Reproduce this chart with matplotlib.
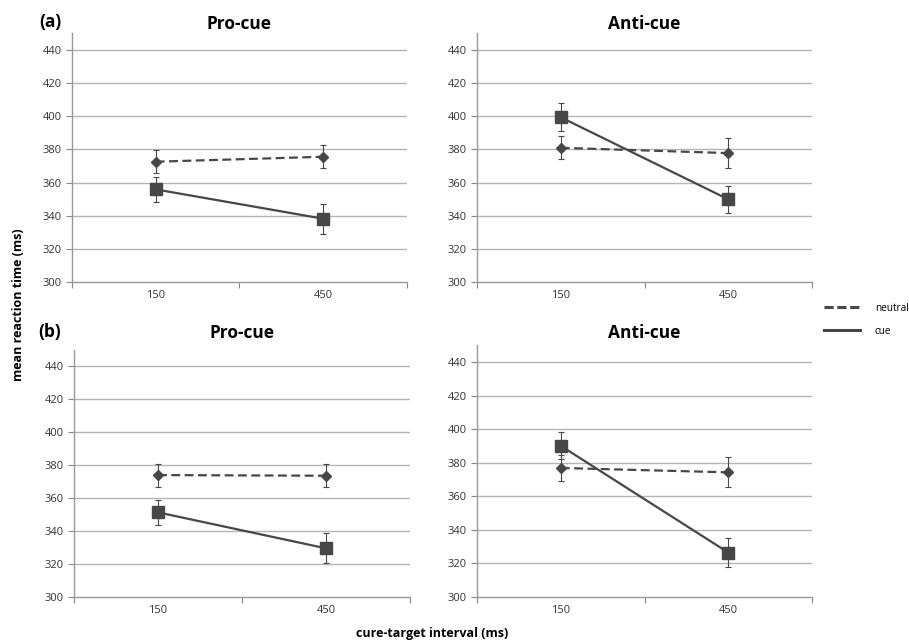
import numpy as np
import matplotlib
matplotlib.use('Agg')
import matplotlib.pyplot as plt
from matplotlib.lines import Line2D

plt.rcParams['font.family'] = ['Open Sans', 'DejaVu Sans']

# categories (cue-target interval, ms)
intervals = ['150', '450']

# panel (a)
a_pro_neutral = [372.6, 375.6]
a_pro_neutral_err = [7.0, 7.0]
a_pro_cue = [355.9, 338.2]
a_pro_cue_err = [7.5, 9.0]
a_anti_neutral = [381.0, 377.8]
a_anti_neutral_err = [7.0, 9.0]
a_anti_cue = [399.4, 349.9]
a_anti_cue_err = [8.5, 8.0]

# panel (b)
b_pro_neutral = [373.9, 373.5]
b_pro_neutral_err = [7.0, 7.0]
b_pro_cue = [351.3, 329.5]
b_pro_cue_err = [7.5, 9.0]
b_anti_neutral = [376.9, 374.3]
b_anti_neutral_err = [7.5, 9.0]
b_anti_cue = [390.1, 326.5]
b_anti_cue_err = [8.0, 8.5]

line_col = '#474747'
grid_col = '#b5b5b5'
txt_col = '#333333'

fig = plt.figure(figsize=(9.09, 6.42), dpi=100)

panels = [
    ([0.0792, 0.5607, 0.3685, 0.3872], 'Pro-cue', a_pro_neutral, a_pro_neutral_err, a_pro_cue, a_pro_cue_err),
    ([0.5248, 0.5607, 0.3685, 0.3872], 'Anti-cue', a_anti_neutral, a_anti_neutral_err, a_anti_cue, a_anti_cue_err),
    ([0.0814, 0.0701, 0.3696, 0.3855], 'Pro-cue', b_pro_neutral, b_pro_neutral_err, b_pro_cue, b_pro_cue_err),
    ([0.5248, 0.0701, 0.3685, 0.3920], 'Anti-cue', b_anti_neutral, b_anti_neutral_err, b_anti_cue, b_anti_cue_err),
]

x = np.arange(len(intervals)) + 0.5
for i, (rect, title, neu, neu_err, cue, cue_err) in enumerate(panels):
    ax = fig.add_axes(rect)
    ax.set_xlim(0, 2)
    ax.set_ylim(300, 450)
    ax.set_yticks(np.arange(300, 441, 20))
    for yv in np.arange(320, 441, 20):
        ax.axhline(yv, color=grid_col, lw=1.0, zorder=0)
    ax.errorbar(x, neu, yerr=neu_err, color=line_col, ls='--', lw=1.6,
                marker='D', ms=5, capsize=2.5, elinewidth=0.8, capthick=0.8,
                dashes=(4, 2), label='neutral', zorder=3)
    ax.errorbar(x, cue, yerr=cue_err, color=line_col, ls='-', lw=1.6,
                marker='s', ms=8, capsize=2.5, elinewidth=0.8, capthick=0.8,
                label='cue', zorder=4)
    ax.set_xticks([0, 1, 2])
    ax.set_xticklabels([])
    ax.set_xticks(x, minor=True)
    ax.set_xticklabels(intervals, minor=True)
    ax.tick_params(axis='x', which='major', length=4, color='#888888', direction='out')
    ax.tick_params(axis='x', which='minor', length=0, pad=6, labelsize=8, labelcolor=txt_col)
    ax.tick_params(axis='y', length=4, color='#888888', labelsize=8, labelcolor=txt_col)
    for s in ['top', 'right']:
        ax.spines[s].set_visible(False)
    for s in ['left', 'bottom']:
        ax.spines[s].set_color('#999999')
        ax.spines[s].set_linewidth(1.0)
    pad = 3 if i < 2 else (8 if i == 2 else 5)
    ax.set_title(title, fontsize=12.5, fontweight='bold', pad=pad)

fig.text(0.055, 0.966, '(a)', fontsize=12.5, fontweight='bold', ha='center', va='center')
fig.text(0.055, 0.483, '(b)', fontsize=12.5, fontweight='bold', ha='center', va='center')
fig.text(0.020, 0.526, 'mean reaction time (ms)', rotation=90, fontsize=9,
         fontweight='bold', ha='center', va='center')
fig.text(0.475, 0.014, 'cure-target interval (ms)', fontsize=9,
         fontweight='bold', ha='center', va='center')

leg_handles = [Line2D([], [], color=line_col, ls='--', lw=2.2, dashes=(3, 1.2)),
               Line2D([], [], color=line_col, ls='-', lw=2.2)]
fig.legend(leg_handles, ['neutral', 'cue'], loc='upper left',
           bbox_to_anchor=(0.902, 0.535), frameon=False, fontsize=7.2,
           handlelength=3.6, labelspacing=1.2, handletextpad=1.5, borderaxespad=0)

fig.savefig('out.png', dpi=100)
